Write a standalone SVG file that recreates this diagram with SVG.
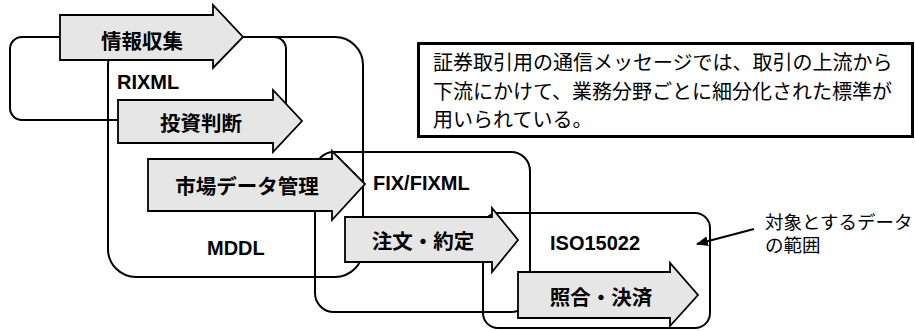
<svg xmlns="http://www.w3.org/2000/svg" width="915" height="331" viewBox="0 0 915 331">
<defs>
<style>
.box{fill:none;stroke:#000;stroke-width:2}
.arr{fill:#e6e6e6;stroke:#000;stroke-width:1.8;stroke-linejoin:miter}
.lbl{font-family:"Noto Sans CJK JP","Noto Sans",sans-serif;font-weight:700;font-size:20.5px;fill:#000;text-anchor:middle;dominant-baseline:central}
.std{font-family:"Liberation Sans",Arial,sans-serif;font-weight:700;font-size:20px;fill:#000}
.note{font-family:"Liberation Sans","Noto Sans CJK JP",sans-serif;fill:#000;dominant-baseline:central}
</style>
<marker id="ah" viewBox="0 0 12 10" refX="11" refY="5" markerWidth="12" markerHeight="10" markerUnits="userSpaceOnUse" orient="auto">
<path d="M0,0 L12,5 L0,10 Z" fill="#000"/>
</marker>
</defs>
<rect width="915" height="331" fill="#fff"/>

<g id="rixml">
<rect class="box" x="10" y="37" width="276" height="83" rx="12"/>
<text class="std" x="117" y="89">RIXML</text>
</g>
<g id="mddl">
<rect class="box" x="108" y="37" width="255" height="240" rx="28"/>
<text class="std" x="207" y="255">MDDL</text>
</g>
<g id="fix">
<rect class="box" x="315" y="152" width="215" height="160" rx="19"/>
<text class="std" x="373" y="190">FIX/FIXML</text>
</g>
<g id="iso">
<rect class="box" x="483" y="213" width="227" height="115" rx="15"/>
<text class="std" x="550" y="250">ISO15022</text>
</g>

<g id="step1">
<polygon class="arr" points="60,15 213,15 213,5 243,37 213,68 213,60 60,60"/>
<text class="lbl" x="142" y="40">情報収集</text>
</g>
<g id="step2">
<polygon class="arr" points="118,100 273,100 273,90 302,121 273,152 273,143 118,143"/>
<text class="lbl" x="201" y="122">投資判断</text>
</g>
<g id="step3">
<polygon class="arr" points="148,159 332,159 332,151 365,184 332,220 332,211 148,211"/>
<text class="lbl" x="247" y="185">市場データ管理</text>
</g>
<g id="step4">
<polygon class="arr" points="345,217 492,217 492,208 518,240 492,272 492,262 345,262"/>
<text class="lbl" x="423" y="240">注文・約定</text>
</g>
<g id="step5">
<polygon class="arr" points="518,272 670,272 670,263 698,295 670,326 670,318 518,318"/>
<text class="lbl" x="601" y="296">照合・決済</text>
</g>

<g id="summary">
<rect x="418.5" y="43.5" width="494" height="93" fill="#fff" stroke="#000" stroke-width="3"/>
<text class="note" font-size="20" x="433" y="63">証券取引用の通信メッセージでは、取引の上流から</text>
<text class="note" font-size="20" x="433" y="92">下流にかけて、業務分野ごとに細分化された標準が</text>
<text class="note" font-size="20" x="433" y="120">用いられている。</text>
</g>

<g id="annotation">
<text class="note" font-size="18.5" x="765" y="222">対象とするデータ</text>
<text class="note" font-size="18.5" x="765" y="245">の範囲</text>
</g>

<g id="connectors">
<line x1="754" y1="229" x2="697" y2="244" stroke="#000" stroke-width="2" marker-end="url(#ah)"/>
</g>
</svg>
